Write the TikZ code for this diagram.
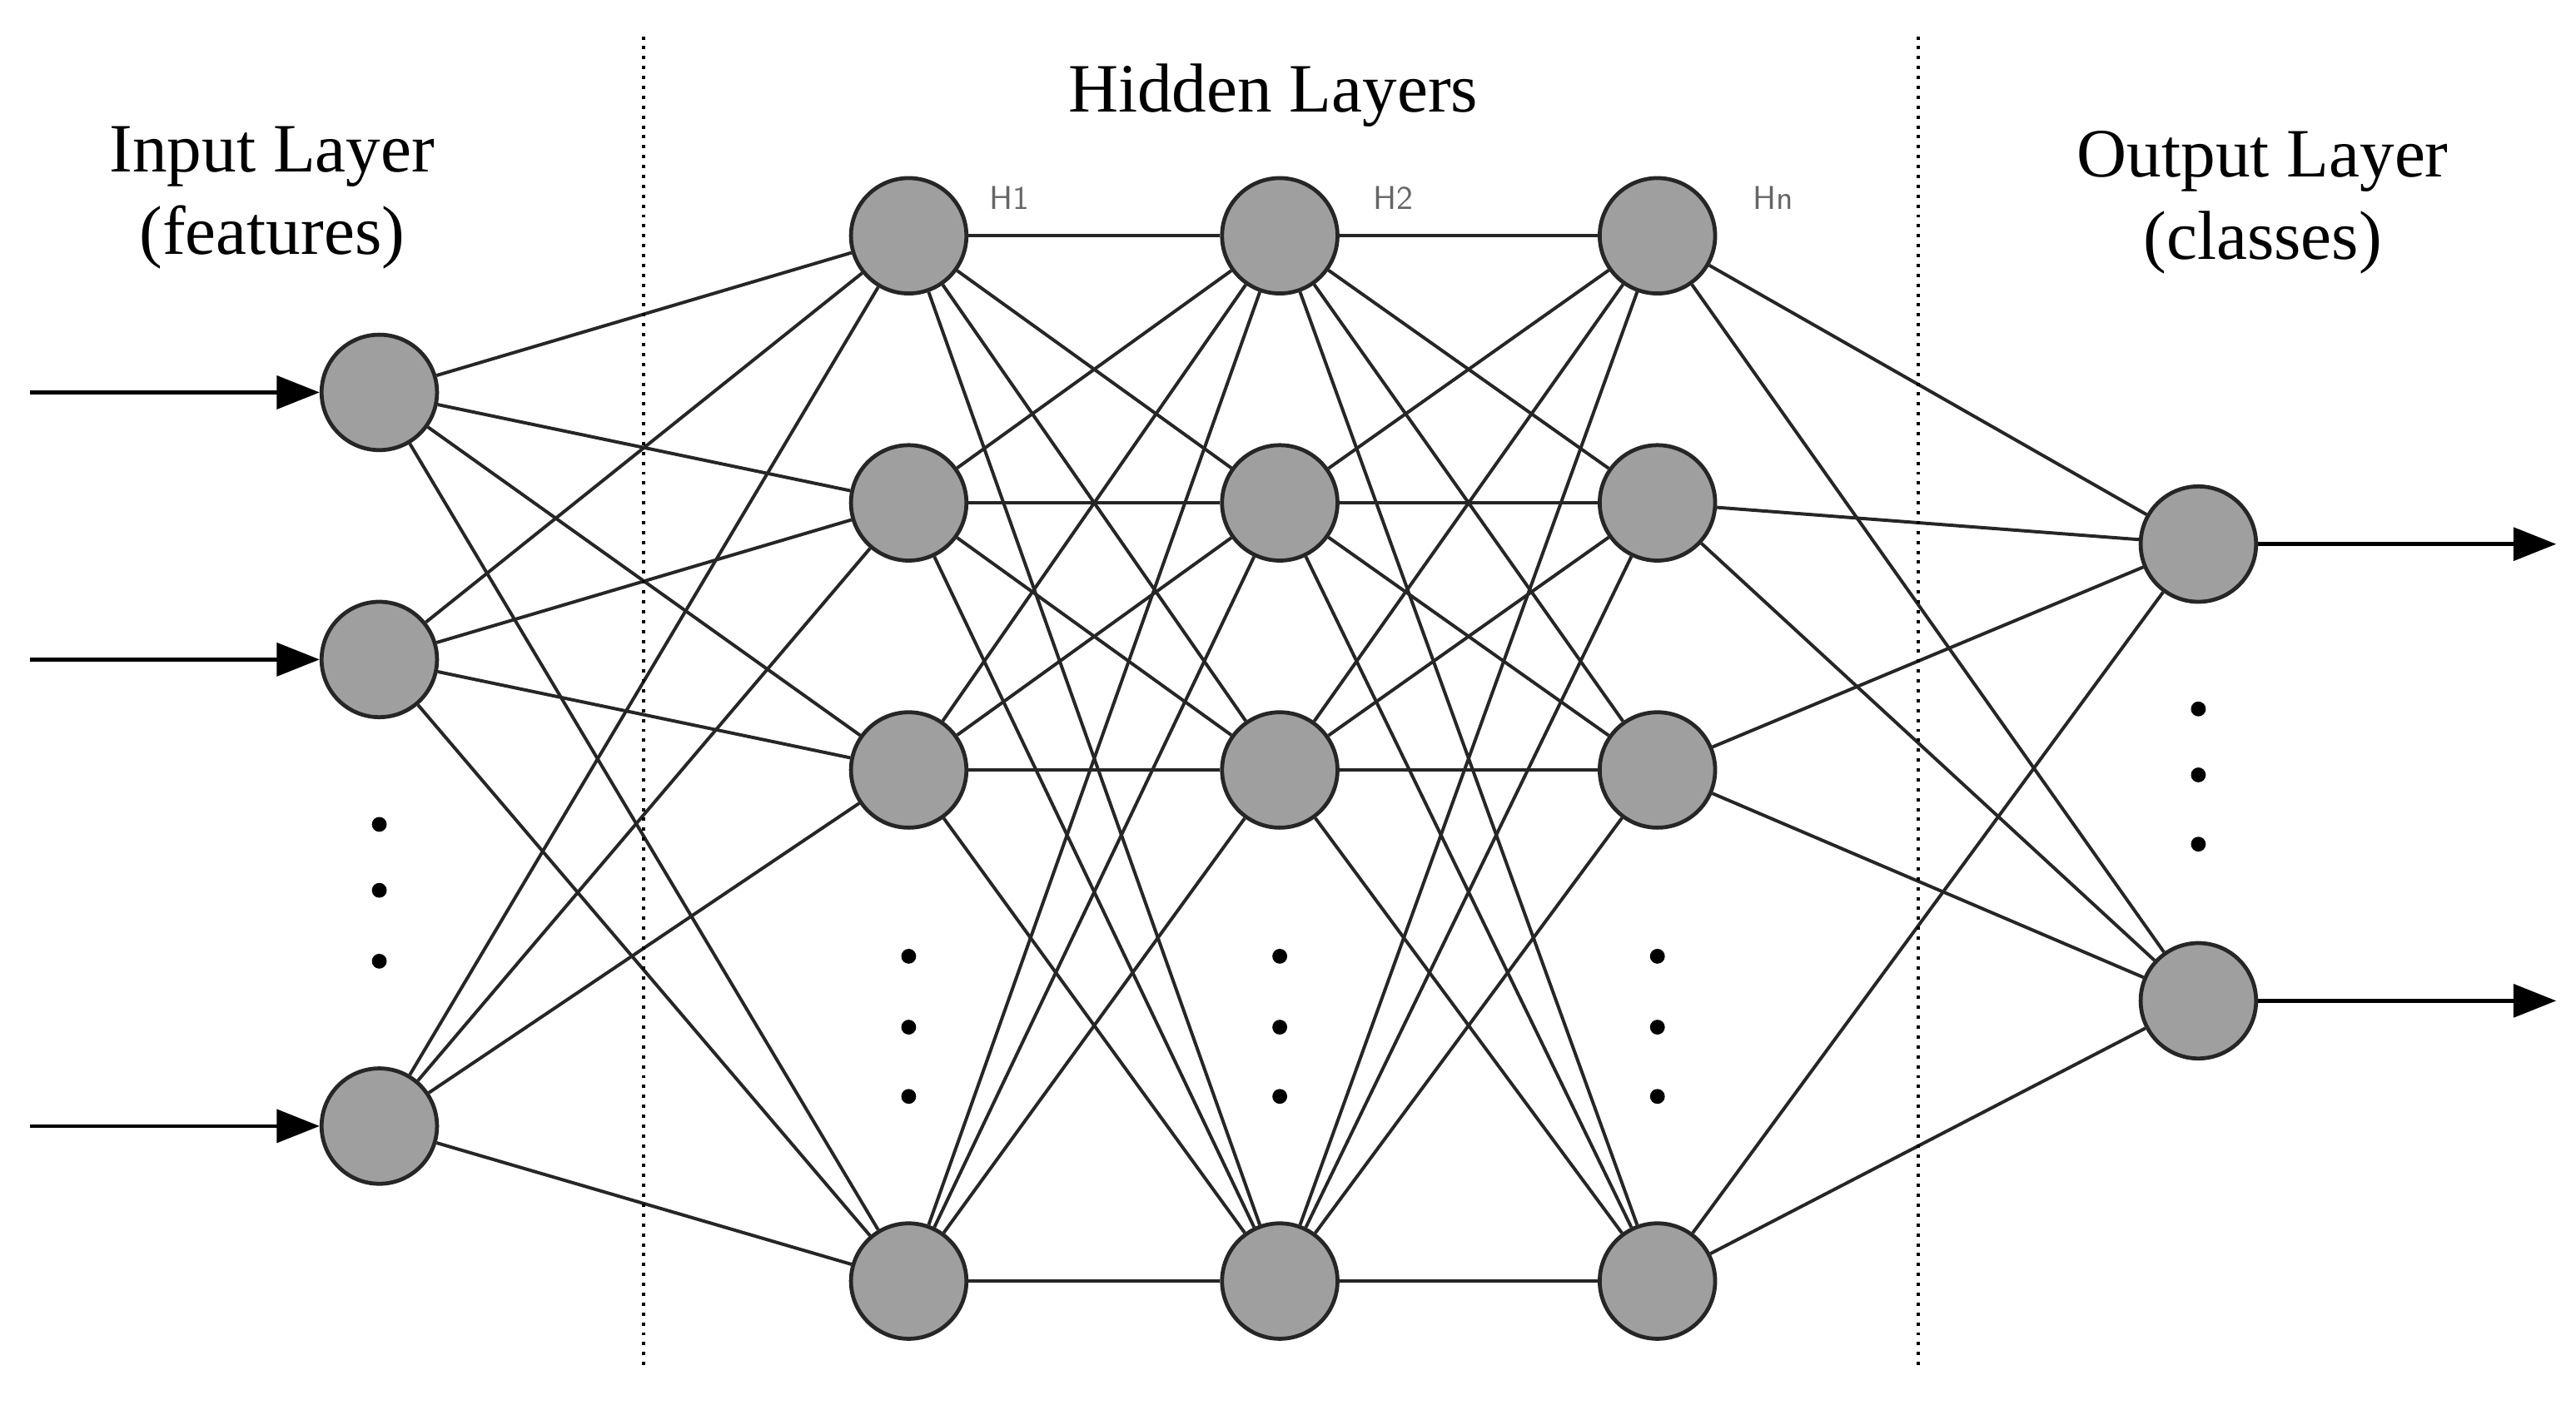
\documentclass[tikz,border=0pt]{standalone}
\usepackage{fontspec}
\setmainfont{Liberation Serif}
\usetikzlibrary{backgrounds,arrows.meta}
\begin{document}
\begin{tikzpicture}[x=0.5pt,y=-0.5pt,
  neuron/.style={circle,draw=black!85,line width=1.2pt,fill=gray!75!white,minimum size=35pt,inner sep=0pt},
  edge/.style={line width=1pt,black!85},
  io/.style={line width=1.2pt,-{Triangle[length=13pt,width=10pt]}},
  sep/.style={dotted,line width=1pt},
  dotc/.style={circle,fill=black,inner sep=0pt,minimum size=4.5pt},
  hl/.style={font=\sffamily\fontsize{10}{12}\selectfont,text=gray!80!black},
  ttl/.style={font=\fontsize{21}{25}\selectfont,align=center}]
\useasboundingbox (0,0) rectangle (1562,852);
\foreach \y [count=\i] in {238,400,683} \node[neuron] (i\i) at (230,\y) {};
\foreach \x/\l in {551/a,776/b,1005/c}
  \foreach \y [count=\i] in {143,305,467,777} \node[neuron] (\l\i) at (\x,\y) {};
\foreach \y [count=\i] in {330,607} \node[neuron] (o\i) at (1333,\y) {};
\begin{scope}[on background layer]
\foreach \i in {1,2,3} \foreach \j in {1,...,4} \draw[edge] (i\i) -- (a\j);
\foreach \i in {1,...,4} \foreach \j in {1,...,4} {\draw[edge] (a\i) -- (b\j); \draw[edge] (b\i) -- (c\j);}
\foreach \i in {1,...,4} \foreach \j in {1,2} \draw[edge] (c\i) -- (o\j);
\draw[sep] (390,22) -- (390,828);
\draw[sep] (1163,22) -- (1163,828);
\end{scope}
\foreach \i in {1,2,3} {\coordinate (s\i) at (18,0 |- i\i); \draw[io] (s\i) -- (i\i);}
\foreach \i in {1,2} {\coordinate (t\i) at (1550,0 |- o\i); \draw[io] (o\i) -- (t\i);}
\foreach \y [count=\k] in {500,540,583} \node[dotc] (di\k) at (230,\y) {};
\foreach \x/\l in {551/a,776/b,1005/c} \foreach \y [count=\k] in {580,623,665} \node[dotc] (d\l\k) at (\x,\y) {};
\foreach \y [count=\k] in {430,470,512} \node[dotc] (do\k) at (1333,\y) {};
\node[ttl] (tin) at (165,120) {Input Layer\\(features)};
\node[ttl] (thid) at (772,58) {Hidden Layers};
\node[ttl] (tout) at (1372,123) {Output Layer\\(classes)};
\node[hl] (h1) at (612,120) {H1};
\node[hl] (h2) at (845,120) {H2};
\node[hl] (hn) at (1075,120) {Hn};
\end{tikzpicture}
\end{document}
